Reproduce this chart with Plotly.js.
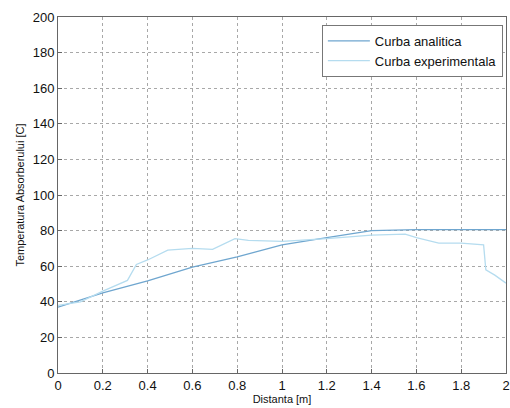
<!DOCTYPE html>
<html>
<head>
<meta charset="utf-8">
<script src="https://cdn.plot.ly/plotly-3.0.1.min.js"></script>
<style>html,body{margin:0;padding:0;background:#fff;}#chart{width:510px;height:408px;}</style>
</head>
<body>
<div id="chart"></div>
<script>
// Curba analitica
const xAnalitic = [0, 0.2, 0.4, 0.6, 0.8, 1.0, 1.2, 1.4, 1.6, 1.8, 2.0];
const yAnalitic = [37, 45, 51.7, 59.5, 65.3, 72, 76, 80, 80.5, 80.5, 80.5];
// Curba experimentala
const xExperimental = [0, 0.1, 0.2, 0.31, 0.35, 0.4, 0.49, 0.6, 0.69, 0.79, 0.85, 1.0, 1.2, 1.4, 1.55, 1.6, 1.7, 1.8, 1.9, 1.91, 1.95, 2.0];
const yExperimental = [38, 40, 46, 52, 61, 63.5, 69, 70, 69.5, 75.5, 74.5, 74, 75.5, 77.5, 78, 76, 73, 73, 72, 58, 55, 50.5];
const xTicks = [0, 0.2, 0.4, 0.6, 0.8, 1, 1.2, 1.4, 1.6, 1.8, 2];
const xTickLabels = ['0', '0.2', '0.4', '0.6', '0.8', '1', '1.2', '1.4', '1.6', '1.8', '2'];
const yTicks = [0, 20, 40, 60, 80, 100, 120, 140, 160, 180, 200];

const traces = [
  {x: xAnalitic, y: yAnalitic, type: 'scatter', mode: 'lines', name: 'Curba analitica',
   line: {color: '#6fa6cf', width: 1.3}},
  {x: xExperimental, y: yExperimental, type: 'scatter', mode: 'lines', name: 'Curba experimentala',
   line: {color: '#b5dcef', width: 1.3}}
];

const FONT = 'Liberation Sans, Arial, sans-serif';
const axisCommon = {
  showline: true, linecolor: '#666', linewidth: 1, mirror: true,
  showgrid: true, gridcolor: '#a8a8a8', griddash: '3px,3px', gridwidth: 1,
  zeroline: false, ticks: 'inside', ticklen: 4, tickcolor: '#666',
  tickfont: {family: FONT, size: 13, color: '#111'}
};

const layout = {
  width: 510, height: 408,
  margin: {l: 58, r: 4, t: 17, b: 35},
  paper_bgcolor: '#fff', plot_bgcolor: '#fff',
  showlegend: true,
  legend: {x: 0.993, y: 0.978, xanchor: 'right', yanchor: 'top',
    bgcolor: '#fff', bordercolor: '#777', borderwidth: 1,
    itemwidth: 42,
    font: {family: FONT, size: 13, color: '#111'},
    tracegroupgap: 0},
  xaxis: Object.assign({}, axisCommon, {
    range: [0, 2], tickvals: xTicks, ticktext: xTickLabels,
    title: {text: 'Distanta [m]', standoff: 2,
      font: {family: FONT, size: 11, color: '#111'}}
  }),
  yaxis: Object.assign({}, axisCommon, {
    range: [0, 200], tickvals: yTicks,
    title: {text: 'Temperatura Absorberului [C]', standoff: 5,
      font: {family: FONT, size: 11, color: '#111'}}
  })
};

Plotly.newPlot('chart', traces, layout, {displayModeBar: false, staticPlot: true});
</script>
</body>
</html>
